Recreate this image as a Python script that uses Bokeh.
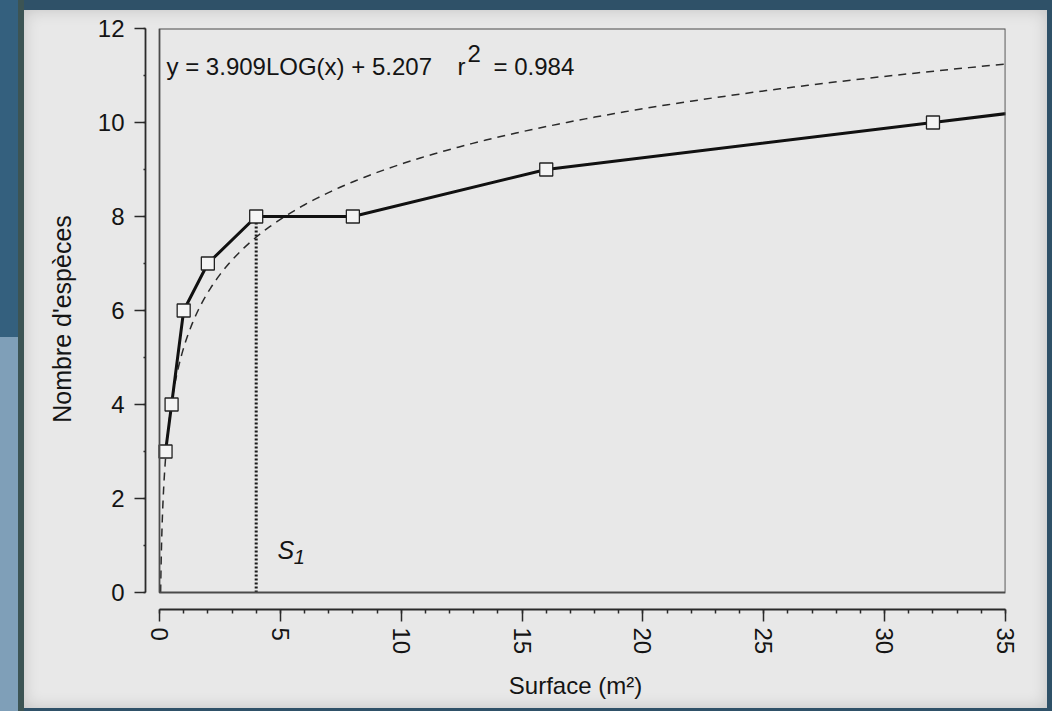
import numpy as np
from bokeh.plotting import figure
from bokeh.models import Range1d, SingleIntervalTicker, BoxAnnotation, Label, ColumnDataSource
from bokeh.layouts import column
from bokeh.embed import file_html
from bokeh.resources import INLINE

# ---------------- data ----------------
surface = [0.25, 0.5, 1, 2, 4, 8, 16, 32, 64]      # m2
especes = [3, 4, 6, 7, 8, 8, 9, 10, 12]              # number of species
fit_a = 3.909      # slope of log fit
fit_b = 5.207      # intercept of log fit
fit_r2 = 0.984
s1_index = 4       # minimal area S1 -> surface[4]
x_ticks_interval = 5
y_ticks_interval = 2
x_max = 35
y_max = 12

FONT = "Liberation Sans"
INK = "#141414"
PANEL = "#e8e8e8"

# fit curve from the stated equation
x_start = 10 ** (-fit_b / fit_a)
fit_x = np.geomspace(x_start, x_max, 300)
fit_y = fit_a * np.log10(fit_x) + fit_b

fig = figure(width=1023, height=698, output_backend="svg", toolbar_location=None,
             x_range=Range1d(-14 / 24.17, x_max), y_range=Range1d(-17 / 47.0, y_max),
             min_border_left=121, min_border_right=42, min_border_top=18, min_border_bottom=99,
             background_fill_color=PANEL, background_fill_alpha=0,
             border_fill_color=PANEL, border_fill_alpha=0, outline_line_color=None,
             margin=(10, 5, 3, 24),
             styles={"background-color": PANEL,
                     "box-shadow": "inset 0 0 16px rgba(0,0,0,0.16)"})
fig.grid.visible = False

# inner frame box
fig.add_layout(BoxAnnotation(left=0, bottom=0, fill_alpha=0, line_color="#4a4a4a",
                             line_alpha=1.0, line_width=1.8))

# axes
xa = fig.xaxis[0]
xa.ticker = SingleIntervalTicker(interval=x_ticks_interval, num_minor_ticks=5)
xa.bounds = (0, x_max)
xa.major_label_orientation = "vertical"
xa.axis_label = "Surface (m²)"
ya = fig.yaxis[0]
ya.ticker = SingleIntervalTicker(interval=y_ticks_interval, num_minor_ticks=2)
ya.bounds = (0, y_max)
ya.axis_label = "Nombre d'espèces"
for ax in (xa, ya):
    ax.axis_line_color = "#2a2a2a"
    ax.axis_line_width = 1.8
    ax.major_tick_line_color = "#2a2a2a"
    ax.major_tick_line_width = 1.5
    ax.minor_tick_line_color = "#2a2a2a"
    ax.minor_tick_line_width = 1.5
    ax.major_tick_in = 0
    ax.minor_tick_in = 0
    ax.major_label_text_font = FONT
    ax.major_label_text_font_size = "24px"
    ax.major_label_text_color = INK
    ax.axis_label_text_font = FONT
    ax.axis_label_text_font_size = "24px"
    ax.axis_label_text_font_style = "normal"
    ax.axis_label_text_color = INK
ya.axis_label_text_font_size = "25px"
xa.major_tick_out = 12
xa.minor_tick_out = 4
xa.major_label_standoff = 6
xa.axis_label_standoff = 15
ya.major_tick_out = 11
ya.minor_tick_out = 2
ya.major_label_standoff = 10
ya.axis_label_standoff = 19

# fit curve (dashed)
fig.line(fit_x, fit_y, line_color="#2a2a2a", line_width=1.5, line_dash="8 6")

# S1 dotted vertical line
fig.segment(x0=[surface[s1_index]], y0=[0], x1=[surface[s1_index]], y1=[especes[s1_index]],
            line_color="#1a1a1a", line_width=3, line_dash="2 2")

# data line + markers
src = ColumnDataSource(dict(x=surface, y=especes))
fig.line("x", "y", source=src, line_color="#111111", line_width=3)
fig.scatter("x", "y", source=src, marker="square", size=13, fill_color="#f4f4f4",
            line_color="#222222", line_width=1.3)

# equation text
def lab(x, y, text, size="24px", style="normal"):
    fig.add_layout(Label(x=x, y=y, text=text, text_font=FONT, text_font_size=size,
                         text_color=INK, text_baseline="alphabetic", text_font_style=style))

dy = 0.19
lab(0.29, 11.0 + dy, "y = %.3fLOG(x) + %.3f" % (fit_a, fit_b))
lab(12.33, 11.0 + dy, "r")
lab(12.74, 11.27 + dy, "2")
lab(13.82, 11.0 + dy, "= %.3f" % fit_r2)
lab(4.88, 0.72 + dy, "S", size="25px", style="italic")
lab(5.55, 0.57 + dy, "1", size="20px", style="italic")

bg = ("linear-gradient(to right, transparent 0px, transparent 18px, #3c5454 18px, #3c5454 24px, transparent 24px), "
      "linear-gradient(to bottom, #34607e 0px, #34607e 337px, #7f9fb8 337px, #7f9fb8 100%)")
p = column(fig, width=1052, height=711,
           styles={"background": bg + ", #2f5168", "background-color": "#2f5168"})
# make the non-left region the dark colour: overlay handled by the second gradient only on left strip
p.styles = {"background": ("linear-gradient(to right, transparent 0px, transparent 18px, #3c5454 18px, "
                           "#3c5454 24px, #2f5168 24px), "
                           "linear-gradient(to bottom, #34607e 0px, #34607e 337px, #7f9fb8 337px)")}

open("out.html", "w").write(file_html(p, INLINE))
